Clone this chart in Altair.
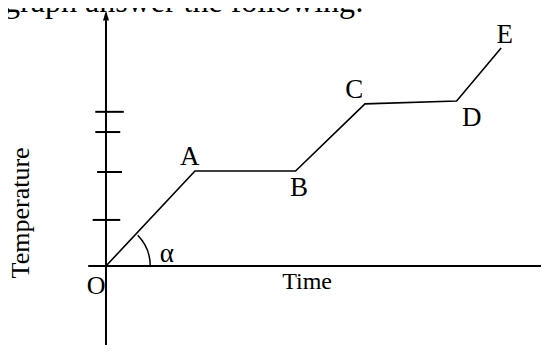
import math
import altair as alt
import pandas as pd

# ---- data (time in min, temperature in deg) ----
pt_label = ["O", "A", "B", "C", "D", "E"]
pt_time = [0, 10.0, 21.3, 29.1, 39.4, 44.4]
pt_temp = [0, 20.2, 20.2, 34.5, 35.1, 46.4]

# label anchors (letters next to the corners)
lab_text = ["A", "B", "C", "D", "E"]
lab_time = [9.4, 21.7, 27.9, 41.1, 44.8]
lab_temp = [21.5, 14.9, 35.7, 29.8, 47.4]

# tick marks on the temperature axis
tick_temp = [32.8, 28.5, 20.0, 9.8]
tick_left = [-1.2, -1.2, -1.0, -1.5]
tick_right = [2.0, 1.6, 1.8, 1.6]

# axis extents
x_min, x_max = -11.01, 48.88
y_min, y_max = -16.81, 54.89
xaxis_start = -2.0
yaxis_top = 52.3
arrow_temp = 53.3

# angle alpha (radians, measured as vega theta)
alpha_theta = [0.80, math.pi / 2]

FONT = "Liberation Serif"

XS = alt.Scale(domain=[x_min, x_max], nice=False, zero=False)
YS = alt.Scale(domain=[y_min, y_max], nice=False, zero=False)

curve_df = pd.DataFrame({"t": pt_time, "T": pt_temp, "o": list(range(len(pt_time))), "name": pt_label})
labels_df = pd.DataFrame({"t": lab_time, "T": lab_temp, "txt": lab_text})
ticks_df = pd.DataFrame({"t": tick_left, "t2": tick_right, "T": tick_temp})
yaxis_df = pd.DataFrame({"t": [0.0], "T": [y_min], "T2": [yaxis_top]})
xaxis_df = pd.DataFrame({"t": [xaxis_start], "t2": [x_max], "T": [0.0]})
arrow_df = pd.DataFrame({"t": [0.0], "T": [arrow_temp]})
arc_df = pd.DataFrame({"t": [0.0], "T": [0.0], "th": [alpha_theta[0]], "th2": [alpha_theta[1]]})

def X(f="t"):
    return alt.X(f"{f}:Q", scale=XS, axis=None)

def Y(f="T"):
    return alt.Y(f"{f}:Q", scale=YS, axis=None)

curve = alt.Chart(curve_df).mark_line(color="black", strokeWidth=1.6).encode(
    x=X(), y=Y(), order="o:Q")

yaxis = alt.Chart(yaxis_df).mark_rule(color="black", strokeWidth=2).encode(
    x=X(), y=Y(), y2="T2:Q")

xaxis = alt.Chart(xaxis_df).mark_rule(color="black", strokeWidth=2).encode(
    x=X(), x2="t2:Q", y=Y())

ticks = alt.Chart(ticks_df).mark_rule(color="black", strokeWidth=2).encode(
    x=X(), x2="t2:Q", y=Y())

arrow = alt.Chart(arrow_df).mark_point(
    shape="M 0 -1 L 0.6 1 L -0.6 1 Z", filled=True, color="black", size=100, opacity=1
).encode(x=X(), y=Y())

arc = alt.Chart(arc_df).mark_arc(color="black").encode(
    x=X(), y=Y(),
    theta=alt.Theta("th:Q", scale=None), theta2="th2:Q",
    radius=alt.value(45), radius2=alt.value(43.5))

letters = alt.Chart(labels_df).mark_text(
    font=FONT, fontSize=27, color="black", align="center", baseline="alphabetic"
).encode(x=X(), y=Y(), text="txt:N")

o_label = alt.Chart(pd.DataFrame({"t": [-1.12], "T": [-6.0], "txt": ["O"]})).mark_text(
    font=FONT, fontSize=26, color="black", align="center", baseline="alphabetic"
).encode(x=X(), y=Y(), text="txt:N")

alpha_label = alt.Chart(pd.DataFrame({"t": [6.85], "T": [0.85], "txt": ["α"]})).mark_text(
    font=FONT, fontSize=27, color="black", align="center", baseline="alphabetic"
).encode(x=X(), y=Y(), text="txt:N")

time_label = alt.Chart(pd.DataFrame({"t": [22.6], "T": [-4.9], "txt": ["Time"]})).mark_text(
    font=FONT, fontSize=24, color="black", align="center", baseline="alphabetic"
).encode(x=X(), y=Y(), text="txt:N")

temp_label = alt.Chart(pd.DataFrame({"t": [-8.65], "T": [11.3], "txt": ["Temperature"]})).mark_text(
    font=FONT, fontSize=26, color="black", align="center", baseline="alphabetic", angle=270
).encode(x=X(), y=Y(), text="txt:N")

top_text = alt.Chart(pd.DataFrame({"t": [28.99], "T": [54.05], "txt": ["e graph answer the following:"]})).mark_text(
    font=FONT, fontSize=32, color="black", align="right", baseline="alphabetic"
).encode(x=X(), y=Y(), text="txt:N")

chart = alt.layer(
    xaxis, yaxis, ticks, arrow, curve, arc,
    letters, o_label, alpha_label, time_label, temp_label, top_text
).properties(
    width=533, height=337, padding=0,
    autosize=alt.AutoSizeParams(type="none"),
    background="white",
).configure_view(stroke=None)

chart.save("out.html", embed_options={"renderer": "svg", "actions": False})
